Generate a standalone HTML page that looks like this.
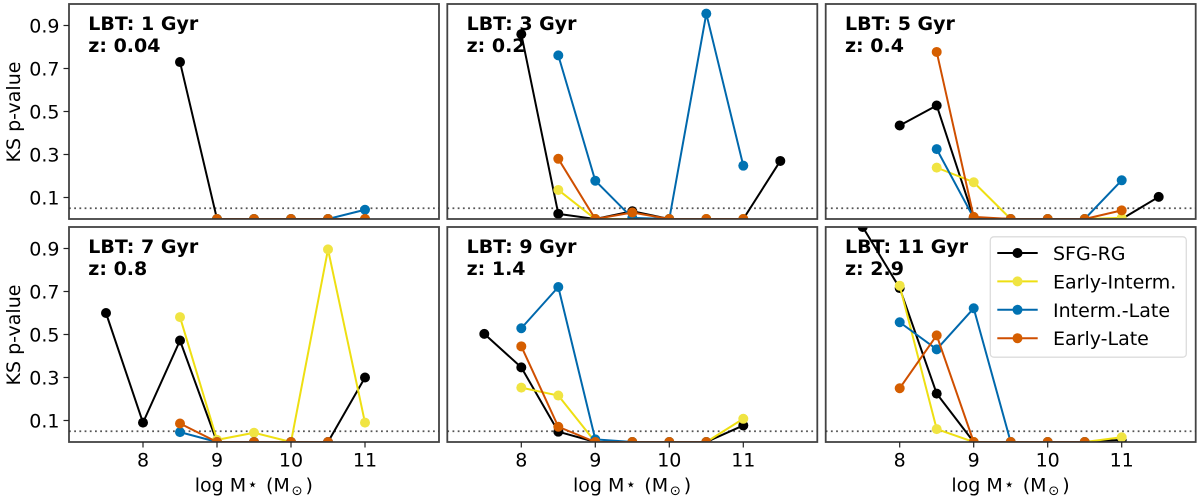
<!DOCTYPE html>
<html lang="en">
<head>
<meta charset="utf-8">
<title>KS p-value vs stellar mass</title>
<style>
html,body{margin:0;padding:0;background:#fff;}
svg{display:block;font-family:"DejaVu Sans","Liberation Sans",sans-serif;}
</style>
</head>
<body>
<svg id="chart" xmlns="http://www.w3.org/2000/svg" width="1200" height="500" viewBox="0 0 1200 500"></svg>
<script>
const masses = [7.5, 8, 8.5, 9, 9.5, 10, 10.5, 11, 11.5];
const xTicks = [8, 9, 10, 11];
const yTicks = [0.1, 0.3, 0.5, 0.7, 0.9];
const yTickLabels = ["0.1", "0.3", "0.5", "0.7", "0.9"];
const significance = 0.05;
const seriesNames = ["SFG-RG", "Early-Interm.", "Interm.-Late", "Early-Late"];
const lbtLabels = ["LBT: 1 Gyr", "LBT: 3 Gyr", "LBT: 5 Gyr", "LBT: 7 Gyr", "LBT: 9 Gyr", "LBT: 11 Gyr"];
const zLabels = ["z: 0.04", "z: 0.2", "z: 0.4", "z: 0.8", "z: 1.4", "z: 2.9"];

const p1Sfg    = [null, null, 0.73, 0, 0, 0, 0, 0, null];
const p1Early  = [null, null, null, 0, 0, 0, 0, 0, null];
const p1Interm = [null, null, null, 0, 0, 0, 0, 0.043, null];
const p1Late   = [null, null, null, 0, 0, 0, 0, 0, null];

const p2Sfg    = [null, 0.86, 0.024, 0, 0.036, 0, 0, 0, 0.27];
const p2Early  = [null, null, 0.135, 0, 0, 0, 0, 0, null];
const p2Interm = [null, null, 0.761, 0.178, 0.005, 0, 0.955, 0.248, null];
const p2Late   = [null, null, 0.28, 0, 0.03, 0, 0, 0, null];

const p3Sfg    = [null, 0.435, 0.528, 0.005, 0, 0, 0, 0, 0.103];
const p3Early  = [null, null, 0.239, 0.171, 0, 0, 0, 0.005, null];
const p3Interm = [null, null, 0.325, 0.005, 0, 0, 0, 0.18, null];
const p3Late   = [null, null, 0.777, 0.01, 0, 0, 0, 0.04, null];

const p4Sfg    = [0.6, 0.09, 0.472, 0, 0, 0, 0, 0.3, null];
const p4Early  = [null, null, 0.581, 0.01, 0.043, 0, 0.896, 0.09, null];
const p4Interm = [null, null, 0.046, 0, 0, 0, 0, null, null];
const p4Late   = [null, null, 0.086, 0, 0, 0, 0, null, null];

const p5Sfg    = [0.503, 0.347, 0.048, 0, 0, 0, 0, 0.077, null];
const p5Early  = [null, 0.253, 0.216, 0, 0, 0, 0, 0.108, null];
const p5Interm = [null, 0.529, 0.721, 0.012, 0, 0, 0, null, null];
const p5Late   = [null, 0.445, 0.071, 0, 0, 0, 0, null, null];

const p6Sfg    = [1.0, 0.716, 0.225, 0, 0, 0, 0, 0.01, null];
const p6Early  = [null, 0.727, 0.06, 0, 0, 0, 0, 0.022, null];
const p6Interm = [null, 0.557, 0.431, 0.622, 0, 0, 0, null, null];
const p6Late   = [null, 0.25, 0.496, 0, 0, 0, 0, null, null];

const panelSeries = [
  [p1Sfg, p1Early, p1Interm, p1Late],
  [p2Sfg, p2Early, p2Interm, p2Late],
  [p3Sfg, p3Early, p3Interm, p3Late],
  [p4Sfg, p4Early, p4Interm, p4Late],
  [p5Sfg, p5Early, p5Interm, p5Late],
  [p6Sfg, p6Early, p6Interm, p6Late]
];

const NS = "http://www.w3.org/2000/svg";
const svg = document.getElementById("chart");
const lineColors = ["#000000", "#EEDF12", "#0068AC", "#CF4F00"];
const markerColors = ["#000000", "#F0E442", "#0072B2", "#D55E00"];
const seriesKeys = ["sfg-rg", "early-interm", "interm-late", "early-late"];
const lefts = [69, 447.3, 825.7];
const tops = [4, 227];
const panelW = 370;
const panelH = 215;
const FONT = 19;
const MARKER_R = 5;

function make(tag, attrs, parent, text) {
  const el = document.createElementNS(NS, tag);
  for (const k in attrs) el.setAttribute(k, attrs[k]);
  if (text !== undefined) el.textContent = text;
  (parent || svg).appendChild(el);
  return el;
}

const defs = make("defs", {});

function xScale(left) {
  return function (v) { return left + (v - 7) / 5 * panelW; };
}
function yScale(top) {
  return function (v) { return top + (1 - v) * panelH; };
}

function drawPanel(i) {
  const col = i % 3;
  const row = Math.floor(i / 3);
  const left = lefts[col];
  const top = tops[row];
  const x = xScale(left);
  const y = yScale(top);
  const bottom = top + panelH;

  const g = make("g", {}, svg);
  
  

  const clip = make("clipPath", { id: "clip" + i }, defs);
  make("rect", { x: left, y: top, width: panelW, height: panelH }, clip);

  const plot = make("g", { "clip-path": "url(#clip" + i + ")" }, g);
  
  

  const ref = make("line", {
    x1: left, x2: left + panelW, y1: y(significance), y2: y(significance),
    stroke: "#555", "stroke-width": 1.8, "stroke-dasharray": "1.8 3.4"
  }, plot);
  
  

  panelSeries[i].forEach(function (values, s) {
    const sg = make("g", {}, plot);
    
    
    let pts = [];
    values.forEach(function (v, k) {
      if (v !== null) pts.push(x(masses[k]).toFixed(2) + "," + y(v).toFixed(2));
    });
    const line = make("polyline", {
      points: pts.join(" "), fill: "none", stroke: lineColors[s],
      "stroke-width": 2, "stroke-linejoin": "round"
    }, sg);
    
    
    values.forEach(function (v, k) {
      if (v === null) return;
      const dot = make("circle", {
        cx: x(masses[k]).toFixed(2), cy: y(v).toFixed(2), r: MARKER_R, fill: markerColors[s]
      }, sg);
      
      
    });
  });

  const frame = make("rect", {
    x: left, y: top, width: panelW, height: panelH, fill: "none",
    stroke: "#333", "stroke-width": 1.8, "stroke-opacity": 0.92
  }, g);
  
  

  if (col === 0) {
    yTicks.forEach(function (t, k) {
      const mark = make("line", {
        x1: left - 5.5, x2: left, y1: y(t), y2: y(t), stroke: "#222", "stroke-width": 1.2
      }, g);
      
      
      const lab = make("text", {
        x: left - 9.5, y: y(t) + 7, "text-anchor": "end", "font-size": FONT, fill: "#000"
      }, g, yTickLabels[k]);
      
      
    });
    const cy = top + 108;
    const yt = make("text", {
      x: 20, y: cy, "text-anchor": "middle", "font-size": FONT, fill: "#000",
      transform: "rotate(-90 20 " + cy + ")"
    }, g, "KS p-value");
    
    
  }

  if (row === 1) {
    xTicks.forEach(function (t) {
      const mark = make("line", {
        x1: x(t), x2: x(t), y1: bottom, y2: bottom + 5.5, stroke: "#222", "stroke-width": 1.2
      }, g);
      
      
      const lab = make("text", {
        x: x(t), y: bottom + 24.7, "text-anchor": "middle", "font-size": FONT, fill: "#000"
      }, g, String(t));
      
      
    });
    const xt = make("text", { y: 491.5, "font-size": FONT, fill: "#000" }, g);
    
    
    make("tspan", { x: left + 125.7 }, xt, "log M");
    make("tspan", { x: left + 178.2, "font-size": 17, y: 490 }, xt, "\u22C6");
    make("tspan", { x: left + 197, y: 491.5 }, xt, "(M");
    make("tspan", { x: left + 222.5, "font-size": 13.3, y: 495 }, xt, "\u2299");
    make("tspan", { x: left + 236.5, y: 491.5 }, xt, ")");
  }

  const lbt = make("text", {
    x: left + 19.3, y: top + 26, "font-size": FONT, "font-weight": "bold", fill: "#000"
  }, g, lbtLabels[i]);
  
  
  const zl = make("text", {
    x: left + 19.3, y: top + 48, "font-size": FONT, "font-weight": "bold", fill: "#000"
  }, g, zLabels[i]);
  
  
}

for (let i = 0; i < 6; i++) drawPanel(i);

const legend = make("g", {}, svg);


const legendBox = make("rect", {
  x: 990.3, y: 236.8, width: 196, height: 120.4, rx: 3.5, ry: 3.5,
  fill: "#fff", "fill-opacity": 0.8, stroke: "#dcdcdc", "stroke-width": 1.3
}, legend);


seriesNames.forEach(function (name, s) {
  const cy = 253 + s * 28.4;
  const entry = make("g", {}, legend);
  
  
  make("line", { x1: 997.3, x2: 1037.7, y1: cy, y2: cy, stroke: lineColors[s], "stroke-width": 2 }, entry);
  make("circle", { cx: 1017.5, cy: cy, r: MARKER_R, fill: markerColors[s] }, entry);
  make("text", { x: 1053, y: cy + 7, "font-size": FONT, fill: "#000" }, entry, name);
});
</script>
</body>
</html>
